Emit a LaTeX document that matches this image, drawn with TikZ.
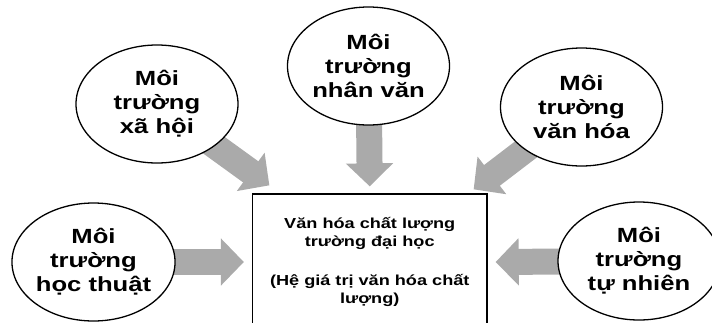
\documentclass[tikz,border=0pt]{standalone}
\usepackage{fontspec}
\setmainfont{Liberation Sans}[FakeStretch=1.25]
\usetikzlibrary{arrows.meta,backgrounds,positioning,shapes.geometric}
\definecolor{arrowgray}{RGB}{170,170,170}
\tikzset{
  env/.style={ellipse, draw, line width=1.3pt, fill=white, minimum width=162pt, minimum height=118pt, inner sep=0pt, align=center, font=\fontsize{20.5}{24}\selectfont\bfseries},
  core/.style={rectangle, draw, line width=1.3pt, fill=white, minimum width=234.5pt, minimum height=136pt, align=center, font=\fontsize{14.5}{17.5}\selectfont\bfseries},
  bigarrow/.style={line width=26pt, draw=arrowgray, -{Triangle[width=46pt,length=23pt]}},
}

\begin{document}
\begin{tikzpicture}[x=1pt,y=1pt]
		%%%%% START %%%%%
		\useasboundingbox (0,0) rectangle (712,-322);
		
		\node[core] (box) at (369.75,-262) {Văn hóa chất lượng\\trường đại học\\[22pt](Hệ giá trị văn hóa chất\\lượng)};
		
		\node[env] (xh) at (157,-104) {Môi\\trường\\xã hội};
		\node[env] (nv) at (368.5,-66) {Môi\\trường\\nhân văn};
		\node[env] (vh) at (581.5,-107) {Môi\\trường\\văn hóa};
		\node[env] (ht) at (93.5,-262) {Môi\\trường\\học thuật};
		\node[env] (tn) at (639,-261) {Môi\\trường\\tự nhiên};
		
		\coordinate (in-xh) at ([shift={(17.5pt,8pt)}]box.north west);
		\coordinate (in-nv) at ([yshift=7pt]box.north);
		\coordinate (in-vh) at ([shift={(-14pt,4pt)}]box.north east);
		\coordinate (in-ht) at ([xshift=-8pt]box.west);
		\coordinate (in-tn) at ([xshift=8pt]box.east);
		
		\begin{scope}[on background layer]
			\draw[bigarrow] (xh.center) -- (in-xh);
			\draw[bigarrow] (nv.center) -- (in-nv);
			\draw[bigarrow] (vh.center) -- (in-vh);
			\draw[bigarrow] (ht.center) -- (in-ht);
			\draw[bigarrow] (tn.center) -- (in-tn);
		\end{scope}
		
		%%%%% END %%%%%
\end{tikzpicture}
\end{document}
